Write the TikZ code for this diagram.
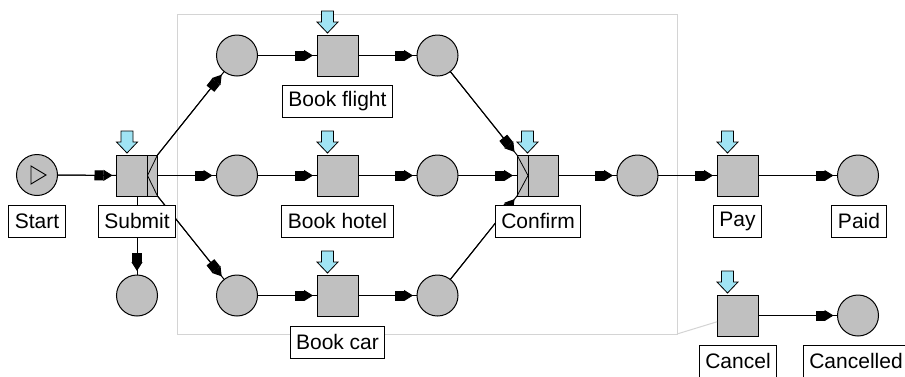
\documentclass[tikz,border=0pt]{standalone}
\usepackage{fontspec}
\newfontfamily\lblfont{Liberation Sans}
\usetikzlibrary{arrows.meta,calc}
\definecolor{placegray}{RGB}{192,192,192}
\definecolor{framegray}{RGB}{212,212,212}
\definecolor{tokcyan}{RGB}{160,228,244}
\tikzset{
  place/.style={circle, draw, fill=placegray, minimum size=41pt, inner sep=0pt, outer sep=0pt, line width=1pt},
  trans/.style={rectangle, draw, fill=placegray, minimum width=41pt, minimum height=41pt, inner sep=0pt, outer sep=0pt, line width=1pt},
  lbl/.style={draw, fill=white, line width=1pt, inner xsep=6pt, inner ysep=0pt, minimum height=32pt, outer sep=0pt, font=\lblfont\fontsize{21}{24}\selectfont},
  arc/.style={line width=1pt, postaction={draw, line width=1pt, shorten >=4pt,
    -{Rectangle[length=9pt,width=10pt,sep=0pt]Triangle[length=9pt,width=11pt,sep=0pt]}}},
  decor/.style={line width=0.8pt},
  framestyle/.style={draw=framegray, line width=1pt},
  pics/enabler/.style={code={
    \draw[fill=tokcyan, line width=0.8pt] (4.5,-24) -- (16.5,-24) -- (16.5,-13) -- (21,-13) -- (10.5,-2) -- (0,-13) -- (4.5,-13) -- cycle;
  }}
}
\begin{document}
\begin{tikzpicture}[x=1pt,y=-1pt]
\path[use as bounding box] (0,0) rectangle (905,376);
\clip (0,0) rectangle (905,376);
\fill[white] (0,0) rectangle (905,376);
% cancellation region
\coordinate (fbr) at (677,334);
\draw[framestyle] (177,14) -- (677,14) -- (fbr) -- (177,334) -- cycle;
% places and transitions
\node[place] (pstart) at (37,175) {};
\node[trans] (submit) at (137,175.5) {};
\node[place] (pbelow) at (137,295.5) {};
\node[place] (pf1) at (237,55.5) {};
\node[place] (ph1) at (237,175.5) {};
\node[place] (pc1) at (237,295.5) {};
\node[trans] (tf) at (337.5,55.5) {};
\node[trans] (th) at (337.5,175.5) {};
\node[trans] (tc) at (337.5,295.5) {};
\node[place] (pf2) at (437.5,55.5) {};
\node[place] (ph2) at (437.5,175.5) {};
\node[place] (pc2) at (437.5,295.5) {};
\node[trans] (confirm) at (537.5,175.5) {};
\node[place] (pconf) at (637.5,175.5) {};
\node[trans] (pay) at (737.5,175.5) {};
\node[place] (paid) at (858,175.5) {};
\node[trans] (cancel) at (737.5,315.5) {};
\node[place] (pcancelled) at (858,315.5) {};
% link of cancellation region
\draw[framestyle] (fbr) -- (cancel);
% arcs
\draw[arc] (pstart) -- (submit);
\draw[arc] (submit.east) -- (ph1);
\draw[arc] (submit.north east) -- (pf1);
\draw[arc] (submit.south east) -- (pc1);
\draw[arc] (submit.south) -- (pbelow);
\draw[arc] (pf1) -- (tf);
\draw[arc] (tf) -- (pf2);
\draw[arc] (ph1) -- (th);
\draw[arc] (th) -- (ph2);
\draw[arc] (pc1) -- (tc);
\draw[arc] (tc) -- (pc2);
\draw[arc] (pf2) -- (confirm.north west);
\draw[arc] (ph2) -- (confirm.west);
\draw[arc] (pc2) -- (confirm.south west);
\draw[arc] (confirm) -- (pconf);
\draw[arc] (pconf) -- (pay);
\draw[arc] (pay) -- (paid);
\draw[arc] (cancel) -- (pcancelled);
% start marker
\draw[line width=0.9pt] (31,166) -- (46,175) -- (31,184) -- cycle;
% split / join bars
\draw[line width=1pt] ($(submit.north east)+(-10,0)$) -- ($(submit.south east)+(-10,0)$);
\draw[decor] (submit.north east) -- ($(submit.east)+(-10,0)$) -- (submit.south east);
\draw[line width=1pt] ($(confirm.north west)+(11,0)$) -- ($(confirm.south west)+(11,0)$);
\draw[decor] (confirm.north west) -- ($(confirm.west)+(11,0)$) -- (confirm.south west);
% enabled markers
\foreach \t in {submit,tf,th,tc,confirm,pay,cancel}
  \pic at (\t.north west) {enabler};
% labels
\node[lbl] (lstart) at (37,221) {Start};
\node[lbl] (lsubmit) at (137,221) {Submit};
\node[lbl] (lflight) at (337.5,101) {Book flight};
\node[lbl] (lhotel) at (337.5,221) {Book hotel};
\node[lbl] (lcar) at (337.5,342) {Book car};
\node[lbl] (lconfirm) at (538,221) {Confirm};
\node[lbl] (lpay) at (737.5,221) {Pay};
\node[lbl] (lpaid) at (859,221) {Paid};
\node[lbl] (lcancel) at (738,361) {Cancel};
\node[lbl] (lcancelled) at (856,361) {Cancelled};
\end{tikzpicture}
\end{document}
